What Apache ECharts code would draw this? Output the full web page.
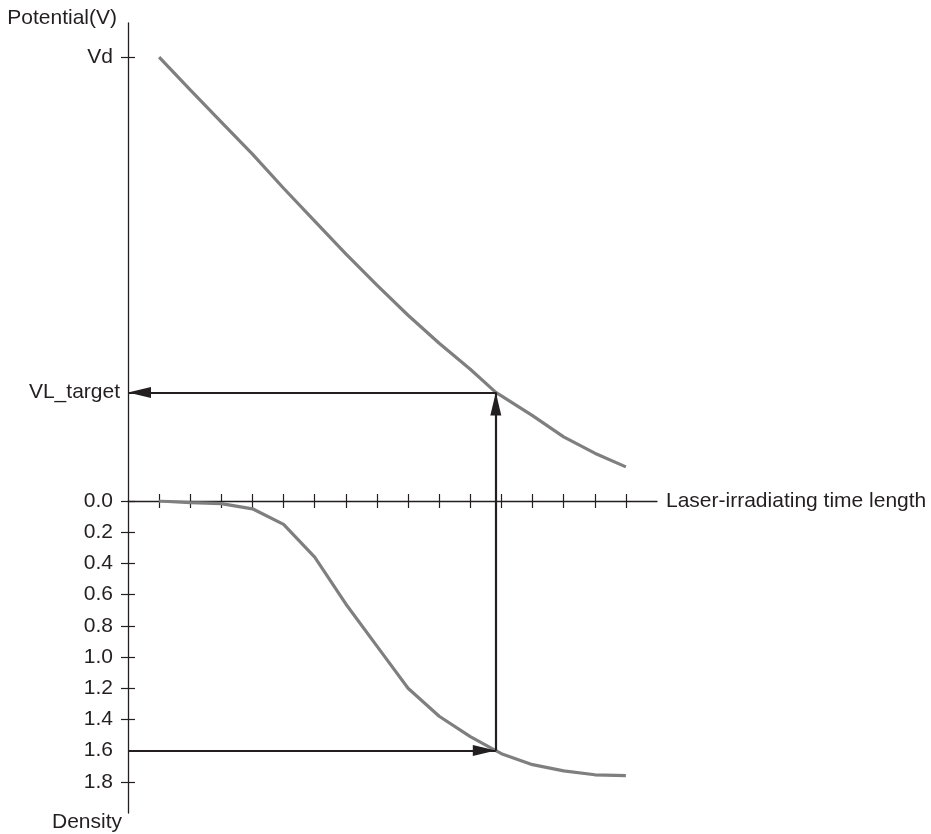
<!DOCTYPE html>
<html>
<head>
<meta charset="utf-8">
<script src="https://cdn.jsdelivr.net/npm/echarts@6/dist/echarts.min.js"></script>
<style>
  html, body { margin: 0; padding: 0; background: #ffffff; }
  #chart { width: 931px; height: 834px; }
</style>
</head>
<body>
<div id="chart"></div>
<script>
// Laser-irradiating time samples (tick units); 10.82 is where the target is reached
const timeSteps = [0, 1, 2, 3, 4, 5, 6, 7, 8, 9, 10, 10.82, 11, 12, 13, 14, 15];
// Surface potential (V) after exposure
const potential = [650, 602, 555, 508, 458, 410, 362, 316, 272, 231, 193, 159, 154, 125, 94, 70, 50];
// Resulting image density
const density = [0, 0.01, 0.017, 0.05, 0.15, 0.36, 0.66, 0.93, 1.20, 1.38, 1.51, 1.60, 1.62, 1.69, 1.73, 1.755, 1.76];

// Tick labels
const timeTicks = [0, 1, 2, 3, 4, 5, 6, 7, 8, 9, 10, 11, 12, 13, 14, 15];
const potentialTickValues = [650, 159];
const potentialTickNames = ['Vd', 'VL_target'];
const densityTicks = [0, 0.2, 0.4, 0.6, 0.8, 1.0, 1.2, 1.4, 1.6, 1.8];

// Operating point
const targetTime = 10.82;
const targetPotential = 159;
const targetDensity = 1.6;

const INK = '#231f20';
const CURVE = '#7f7f7f';
const FONT = '"Liberation Sans", Arial, Helvetica, sans-serif';
const FS = 21;

const chart = echarts.init(document.getElementById('chart'), null, { renderer: 'canvas' });

const axisLineStyle = { color: INK, width: 1.3 };
const tickStyle = { color: INK, width: 1.2 };

function xAxisFor(grid, pos, withName) {
  return {
    type: 'value', gridIndex: grid, position: pos, min: -1, max: 16,
    axisLine: { show: withName, onZero: false, lineStyle: axisLineStyle },
    axisTick: { show: true, customValues: timeTicks, length: 7, inside: false, lineStyle: tickStyle },
    axisLabel: { show: false },
    splitLine: { show: false },
    name: withName ? 'Laser-irradiating time length' : '',
    nameLocation: 'end', nameGap: 9,
    nameTextStyle: { color: INK, fontSize: FS, fontFamily: FONT }
  };
}

const densityTickMarks = densityTicks.filter(v => v !== targetDensity);

const option = {
  animation: false,
  backgroundColor: '#ffffff',
  grid: [
    { left: 128, right: 274, top: 23, height: 478, containLabel: false },
    { left: 128, right: 274, top: 501, height: 312, containLabel: false }
  ],
  xAxis: [xAxisFor(0, 'bottom', true), xAxisFor(1, 'top', false)],
  yAxis: [
    {
      type: 'value', gridIndex: 0, position: 'left', min: 0, max: 700,
      axisLine: { show: true, onZero: false, lineStyle: axisLineStyle },
      axisTick: { show: true, customValues: [650], length: 7, lineStyle: tickStyle },
      axisLabel: {
        customValues: potentialTickValues, margin: 8,
        color: INK, fontSize: FS, fontFamily: FONT,
        formatter: v => {
          const i = potentialTickValues.indexOf(v);
          const name = i >= 0 ? potentialTickNames[i] : '';
          return name === 'Vd' ? '{p|' + name + '}' : name;
        },
        rich: { p: { color: INK, fontSize: FS, fontFamily: FONT, padding: [0, 7, 0, 0] } }
      },
      splitLine: { show: false },
      name: 'Potential(V)', nameLocation: 'end', nameGap: 5,
      nameTextStyle: { color: INK, fontSize: FS, fontFamily: FONT, align: 'right', verticalAlign: 'middle', padding: [0, 11, 0, 0] }
    },
    {
      type: 'value', gridIndex: 0, position: 'left', min: 0, max: 700,
      axisLine: { show: false, onZero: false },
      axisTick: { show: true, inside: true, customValues: [650], length: 7, lineStyle: tickStyle },
      axisLabel: { show: false }, splitLine: { show: false }
    },
    {
      type: 'value', gridIndex: 1, position: 'left', min: 0, max: 2, inverse: true,
      axisLine: { show: true, onZero: false, lineStyle: axisLineStyle },
      axisTick: { show: true, customValues: densityTickMarks, length: 7, lineStyle: tickStyle },
      axisLabel: {
        customValues: densityTicks, margin: 15,
        color: INK, fontSize: FS, fontFamily: FONT,
        formatter: v => v.toFixed(1)
      },
      splitLine: { show: false },
      name: 'Density', nameLocation: 'end', nameGap: 9,
      nameTextStyle: { color: INK, fontSize: FS, fontFamily: FONT, align: 'right', verticalAlign: 'middle', padding: [0, 6, 0, 0] }
    },
    {
      type: 'value', gridIndex: 1, position: 'left', min: 0, max: 2, inverse: true,
      axisLine: { show: false, onZero: false },
      axisTick: { show: true, inside: true, customValues: densityTickMarks, length: 7, lineStyle: tickStyle },
      axisLabel: { show: false }, splitLine: { show: false }
    }
  ],
  series: [
    {
      name: 'Potential', type: 'line', xAxisIndex: 0, yAxisIndex: 0,
      data: timeSteps.map((t, i) => [t, potential[i]]),
      symbol: 'none', lineStyle: { color: CURVE, width: 3.2 }, silent: true,
      markLine: {
        silent: true, animation: false,
        symbol: ['none', 'triangle'], symbolSize: [11, 23],
        symbolOffset: [[0, 0], [0, '50%']],
        label: { show: false },
        lineStyle: { color: INK, width: 2.2, type: 'solid' },
        emphasis: { disabled: true },
        data: [
          [{ coord: [targetTime, targetPotential] }, { coord: [-1, targetPotential] }],
          [{ coord: [targetTime, 0] }, { coord: [targetTime, targetPotential] }]
        ]
      }
    },
    {
      name: 'Density', type: 'line', xAxisIndex: 1, yAxisIndex: 2,
      data: timeSteps.map((t, i) => [t, density[i]]),
      symbol: 'none', lineStyle: { color: CURVE, width: 3.2 }, silent: true,
      markLine: {
        silent: true, animation: false,
        symbol: ['none', 'triangle'], symbolSize: [11, 23],
        symbolOffset: [[0, 0], [0, '50%']],
        label: { show: false },
        lineStyle: { color: INK, width: 2.2, type: 'solid' },
        emphasis: { disabled: true },
        data: [
          [{ coord: [-1, targetDensity] }, { coord: [targetTime, targetDensity] }],
          [{ coord: [targetTime, targetDensity] }, { coord: [targetTime, 0], symbol: 'none' }]
        ]
      }
    }
  ]
};

chart.setOption(option);
</script>
</body>
</html>
